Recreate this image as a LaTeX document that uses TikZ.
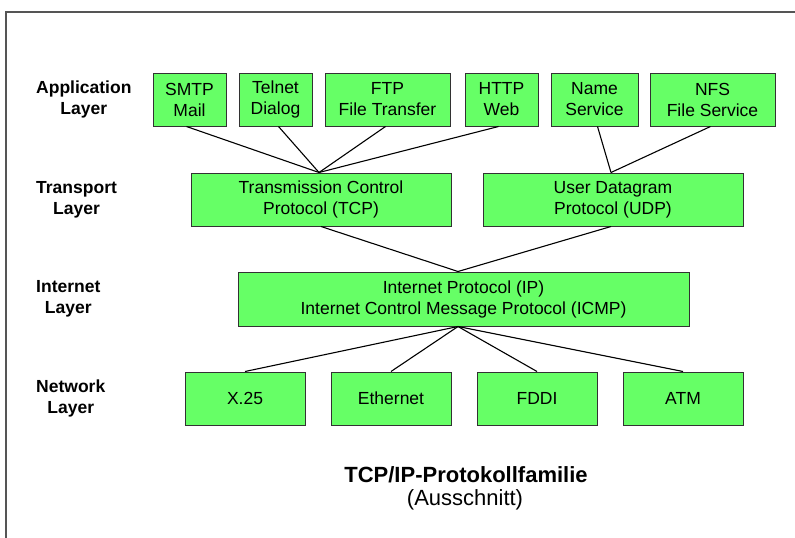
\documentclass[tikz,border=0pt]{standalone}
\usepackage{fontspec}
\setmainfont{Liberation Sans}
\definecolor{boxgreen}{RGB}{102,255,102}
\definecolor{boxline}{RGB}{50,50,50}
\definecolor{frameline}{RGB}{85,85,85}
\begin{document}
\begin{tikzpicture}[x=1pt,y=-1pt,
  pbox/.style={draw=boxline,fill=boxgreen,line width=1pt,inner sep=0pt,align=center,
    minimum height=53pt,font=\fontsize{17.5}{21}\selectfont},
  lay/.style={anchor=west,align=center,inner sep=0pt,font=\fontsize{17.5}{21}\selectfont\bfseries},
  conn/.style={draw=black,line width=1.1pt}]
\useasboundingbox (0,0) rectangle (795,538);
\fill[white] (0,0) rectangle (795,538);
\draw[frameline,line width=1.5pt] (6,538) -- (6,12) -- (795,12);
% layer labels
\node[lay] (lapp) at (36,99.5) {Application\\Layer};
\node[lay] (ltra) at (36,199.5) {Transport\\Layer};
\node[lay] (lint) at (36,299) {Internet\\Layer};
\node[lay] (lnet) at (36,398.5) {Network\\Layer};
% application
\node[pbox,minimum width=73pt] (smtp) at (189.5,99.5) {SMTP\\Mail};
\node[pbox,minimum width=73pt] (telnet) at (275.5,99.5) {Telnet\\Dialog};
\node[pbox,minimum width=125pt] (ftp) at (387.5,99.5) {FTP\\File Transfer};
\node[pbox,minimum width=73pt] (http) at (501.5,99.5) {HTTP\\Web};
\node[pbox,minimum width=87pt] (name) at (594.5,99.5) {Name\\Service};
\node[pbox,minimum width=125pt] (nfs) at (712.5,99.5) {NFS\\File Service};
% transport
\node[pbox,minimum width=260pt] (tcp) at (321,199.5) {Transmission Control\\Protocol (TCP)};
\node[pbox,minimum width=260pt] (udp) at (613,199.5) {User Datagram\\Protocol (UDP)};
% internet
\node[pbox,minimum width=451pt,minimum height=54pt] (ip) at (463.5,299) {Internet Protocol (IP)\\Internet Control Message Protocol (ICMP)};
% network
\node[pbox,minimum width=120pt] (x25) at (245,398.5) {X.25};
\node[pbox,minimum width=120pt] (eth) at (391,398.5) {Ethernet};
\node[pbox,minimum width=120pt] (fddi) at (537,398.5) {FDDI};
\node[pbox,minimum width=120pt] (atm) at (683,398.5) {ATM};
% connectors
\draw[conn] ([xshift=-3pt]smtp.south) -- ([xshift=-2pt]tcp.north);
\draw[conn] ([xshift=3pt]telnet.south) -- ([xshift=-2pt]tcp.north);
\draw[conn] ([xshift=-2pt]ftp.south) -- ([xshift=-2pt]tcp.north);
\draw[conn] ([xshift=-3pt]http.south) -- ([xshift=-2pt]tcp.north);
\draw[conn] ([xshift=3pt]name.south) -- ([xshift=-2pt]udp.north);
\draw[conn] ([xshift=-2pt]nfs.south) -- ([xshift=-2pt]udp.north);
\draw[conn] (tcp.south) -- ([xshift=-5.5pt]ip.north);
\draw[conn] ([xshift=-2pt]udp.south) -- ([xshift=-5.5pt]ip.north);
\draw[conn] ([xshift=-5.5pt]ip.south) -- (x25.north);
\draw[conn] ([xshift=-5.5pt]ip.south) -- (eth.north);
\draw[conn] ([xshift=-5.5pt]ip.south) -- (fddi.north);
\draw[conn] ([xshift=-5.5pt]ip.south) -- (atm.north);
% title
\node[inner sep=0pt,font=\fontsize{22}{26}\selectfont\bfseries] (title) at (466,475) {TCP/IP-Protokollfamilie};
\node[inner sep=0pt,font=\fontsize{22}{26}\selectfont] (sub) at (465,500) {(Ausschnitt)};
\end{tikzpicture}
\end{document}
